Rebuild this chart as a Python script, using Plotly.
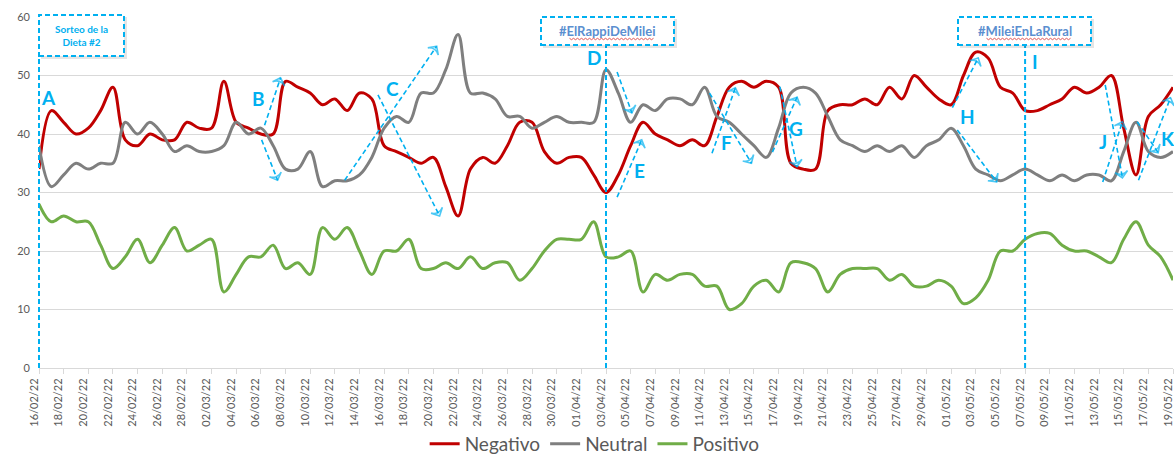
import pandas as pd
import plotly.graph_objects as go

# Daily categories 16/02/22 .. 19/05/22
dates = [d.strftime("%d/%m/%y") for d in pd.date_range("2022-02-16", "2022-05-19", freq="D")]

negativo = [34, 44, 42, 40, 41, 44, 48, 39, 38, 40, 39, 39, 42, 41, 41, 49, 42, 41, 40, 40,
            49, 48, 47, 45, 46, 44, 47, 46, 38, 37, 36, 35, 36, 31, 26, 34, 36, 35, 38, 42,
            42, 37, 35, 36, 36, 33, 30, 33, 38, 42, 40, 39, 38, 39, 38, 43, 48, 49, 48, 49,
            48, 35, 34, 34, 44, 45, 45, 46, 45, 48, 46, 50, 48, 46, 45, 50, 54, 53, 48, 47,
            44, 44, 45, 46, 48, 47, 48, 50, 41, 33, 43, 45, 48]
neutral = [38, 31, 33, 35, 34, 35, 35, 42, 40, 42, 40, 37, 38, 37, 37, 38, 42, 40, 41, 38,
           34, 34, 37, 31, 32, 32, 33, 36, 41, 43, 42, 47, 47, 51, 57, 47, 47, 46, 43, 43,
           41, 42, 43, 42, 42, 42, 51, 47, 42, 45, 44, 46, 46, 45, 48, 43, 42, 40, 38, 36,
           41, 47, 48, 47, 43, 39, 38, 37, 38, 37, 38, 36, 38, 39, 41, 38, 34, 33, 32, 33,
           34, 33, 32, 33, 32, 33, 33, 32, 37, 42, 37, 36, 37]
positivo = [28, 25, 26, 25, 25, 21, 17, 19, 22, 18, 21, 24, 20, 21, 22, 13, 16, 19, 19, 21,
            17, 18, 16, 24, 22, 24, 20, 16, 20, 20, 22, 17, 17, 18, 17, 19, 17, 18, 18, 15,
            17, 20, 22, 22, 22, 25, 19, 19, 20, 13, 16, 15, 16, 16, 14, 14, 10, 11, 14, 15,
            13, 18, 18, 17, 13, 16, 17, 17, 17, 15, 16, 14, 14, 15, 14, 11, 12, 15, 20, 20,
            22, 23, 23, 21, 20, 20, 19, 18, 22, 25, 21, 19, 15]

series = [("Negativo", negativo, "#C00000"),
          ("Neutral", neutral, "#7F7F7F"),
          ("Positivo", positivo, "#70AD47")]

# Event markers: (category index, box label)
events = [(0, "Sorteo de la<br>Dieta #2"), (46, "#ElRappiDeMilei"), (80, "#MileiEnLaRural")]

# Letter callouts: (label, day index, value)
letters = [("A", 0.75, 46.3), ("B", 17.8, 46.0), ("C", 28.65, 47.7), ("D", 45.0, 53.1),
           ("E", 48.75, 33.7), ("F", 55.8, 38.5), ("G", 61.45, 40.9), ("H", 75.3, 43.0),
           ("I", 80.8, 52.4), ("J", 86.3, 38.7), ("K", 91.6, 39.2)]

# Dashed trend arrows: (start index, start value, end index, end value)
arrows = [(18.3, 41.5, 19.6, 49.6), (18.06, 39.0, 19.36, 32.1),
          (24.8, 32.1, 32.26, 55.0), (27.5, 46.7, 32.5, 26.0),
          (46.9, 50.6, 48.1, 43.6), (46.9, 29.2, 48.9, 39.0),
          (54.6, 36.7, 56.5, 47.9), (54.4, 47.0, 57.8, 35.0),
          (59.5, 36.9, 61.5, 46.3), (60.1, 48.1, 61.5, 34.4),
          (74.1, 44.5, 76.2, 53.0), (74.5, 40.7, 77.7, 31.8),
          (86.3, 31.8, 87.9, 42.1), (86.5, 48.4, 87.9, 32.5),
          (89.2, 32.1, 91.8, 46.2), (89.1, 42.1, 90.8, 36.8)]

ACCENT = "#00B0F0"
TEXT = "#595959"
FONT = "Lato"

W, H = 1174, 456
ML, MR, MT, MB = 39, 1, 17, 88
PW, PH = W - ML - MR, H - MT - MB
N = len(dates) - 1
YMAX = 60


def px(x):
    return (x - ML) / PW


def py(y):
    return (H - MB - y) / PH


fig = go.Figure()
xs = list(range(len(dates)))

for name, vals, color in series:
    fig.add_trace(go.Scatter(
        x=xs, y=vals, name=name, mode="lines",
        line=dict(color=color, width=3, shape="spline", smoothing=1.0),
        hovertext=dates,
    ))

# dashed arrows with open arrowheads
for x0, y0, x1, y1 in arrows:
    fig.add_trace(go.Scatter(
        x=[x0, x1], y=[y0, y1], mode="lines+markers", showlegend=False,
        hoverinfo="skip", cliponaxis=False,
        line=dict(color=ACCENT, width=1.6, dash="5px,3px"),
        marker=dict(symbol="arrow-wide-open", size=[0, 9], angleref="previous",
                    color=ACCENT, line=dict(color=ACCENT, width=1.6)),
    ))

shapes = []
annotations = []

# vertical event lines with dashed label boxes
box_geom = {0: (39, 124, 15, 56), 46: (541, 674, 17, 45), 80: (958, 1091, 17, 45)}
for idx, label in events:
    bx0, bx1, by0, by1 = box_geom[idx]
    xline = idx / N
    shapes.append(dict(type="line", xref="paper", yref="paper",
                       x0=xline, x1=xline, y0=0, y1=py(by1),
                       line=dict(color=ACCENT, width=2, dash="5px,3px"), layer="above"))
    # soft shadow
    shapes.append(dict(type="rect", xref="paper", yref="paper",
                       x0=px(bx0 + 2), x1=px(bx1 + 3), y0=py(by1 + 3), y1=py(by0 + 2),
                       fillcolor="rgba(0,0,0,0.10)", line=dict(width=0), layer="above"))
    shapes.append(dict(type="rect", xref="paper", yref="paper",
                       x0=px(bx0), x1=px(bx1), y0=py(by1), y1=py(by0),
                       fillcolor="white",
                       line=dict(color=ACCENT, width=2, dash="5px,3px"), layer="above"))
    if idx == 0:
        annotations.append(dict(xref="paper", yref="paper", x=px((bx0 + bx1) / 2),
                                y=py((by0 + by1) / 2), xanchor="center", yanchor="middle",
                                text="<b>" + label + "</b>",
                                showarrow=False, align="center",
                                font=dict(family=FONT, size=10, color=ACCENT)))
    else:
        annotations.append(dict(xref="paper", yref="paper", x=px((bx0 + bx1) / 2),
                                y=py((by0 + by1) / 2), xanchor="center", yanchor="middle",
                                text="<b>" + label + "</b>",
                                showarrow=False,
                                font=dict(family=FONT, size=13, color="#5B8FD0")))
        # spell-check style squiggle under the hashtag
        cx = (bx0 + bx1) / 2
        sx0, sx1, sy = cx - 38, cx + 46, 38.5
        pts = []
        k = 0
        xcur = sx0
        while xcur <= sx1:
            pts.append((xcur, sy + (1.2 if k % 2 else -0.2)))
            xcur += 2
            k += 1
        path = "M " + " L ".join(f"{px(a):.5f},{py(b):.5f}" for a, b in pts)
        shapes.append(dict(type="path", xref="paper", yref="paper", path=path,
                           line=dict(color="#E05050", width=1), layer="above"))

for lab, xi, yv in letters:
    annotations.append(dict(x=xi, y=yv, xref="x", yref="y", text="<b>" + lab + "</b>",
                            showarrow=False,
                            font=dict(family=FONT, size=19, color=ACCENT)))

fig.update_layout(
    width=W, height=H,
    margin=dict(l=ML, r=MR, t=MT, b=MB, autoexpand=False),
    paper_bgcolor="white", plot_bgcolor="white",
    font=dict(family=FONT, color=TEXT),
    shapes=shapes, annotations=annotations,
    showlegend=True,
    legend=dict(orientation="h", x=0.49, xanchor="center", y=py(444), yanchor="middle",
                font=dict(family=FONT, size=19, color=TEXT), itemwidth=30,
                bgcolor="rgba(0,0,0,0)"),
    xaxis=dict(range=[0, N], tickmode="array", tickvals=xs[::2], ticktext=dates[::2],
               tickangle=-90, tickfont=dict(family=FONT, size=11, color=TEXT),
               showgrid=False, zeroline=False, showline=True, linecolor="#D9D9D9",
               ticks="outside", ticklen=5, tickcolor="#D9D9D9", automargin=False,
               ticklabeloverflow="allow", ticklabelshift=-5),
    yaxis=dict(range=[0, YMAX], dtick=10, tickfont=dict(family=FONT, size=11, color=TEXT),
               showgrid=True, gridcolor="#D9D9D9", gridwidth=1, zeroline=False,
               showline=False, ticks="", ticklabelstandoff=8, automargin=False),
)

fig.write_html("out.html")
